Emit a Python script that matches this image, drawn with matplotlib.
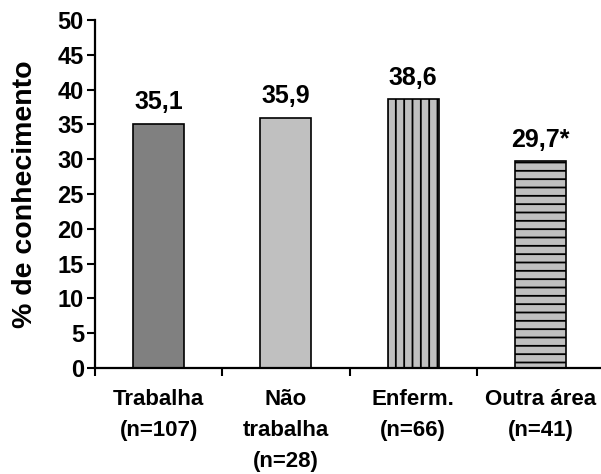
import numpy as np
import matplotlib.pyplot as plt

plt.rcParams["font.family"] = ["Liberation Sans", "DejaVu Sans"]
plt.rcParams["font.weight"] = "bold"
plt.rcParams["hatch.linewidth"] = 1.3

# Data
categories = ["Trabalha\n(n=107)", "Não\ntrabalha\n(n=28)", "Enferm.\n(n=66)", "Outra área\n(n=41)"]
values = [35.1, 35.9, 38.6, 29.7]
value_labels = ["35,1", "35,9", "38,6", "29,7*"]
colors = ["#808080", "#c0c0c0", "#c0c0c0", "#c0c0c0"]
hatches = ["", "", "||", "--"]

fig = plt.figure(figsize=(6.01, 4.74), dpi=100)
ax = fig.add_axes([95 / 601, 106 / 474, 509 / 601, 348 / 474])

x = np.arange(len(categories))
for i in range(len(categories)):
    ax.bar(x[i], values[i], width=0.4, color=colors[i], edgecolor="black",
           linewidth=1.2, hatch=hatches[i], zorder=2)
    ax.annotate(value_labels[i], (x[i], values[i]), xytext=(0, 7),
                textcoords="offset points", ha="center", va="bottom",
                fontsize=18, fontweight="bold")

ax.set_xlim(-0.5, 3.5)
ax.set_ylim(0, 50)
ax.set_yticks(np.arange(0, 51, 5))
ax.set_ylabel("% de conhecimento", fontsize=20.5, fontweight="bold", labelpad=14)

ax.set_xticks(x)
ax.set_xticklabels(categories, fontsize=16, fontweight="bold", linespacing=1.62)
ax.set_xticks(np.arange(-0.5, 3.6, 1), minor=True)
ax.tick_params(axis="x", which="major", length=0, pad=15)
ax.tick_params(axis="x", which="minor", length=6, width=1.5, direction="out")
ax.tick_params(axis="y", labelsize=17, length=6, width=1.5, direction="out", pad=2)

for s in ["top", "right"]:
    ax.spines[s].set_visible(False)
for s in ["left", "bottom"]:
    ax.spines[s].set_linewidth(1.6)

fig.savefig("out.png", dpi=100)
